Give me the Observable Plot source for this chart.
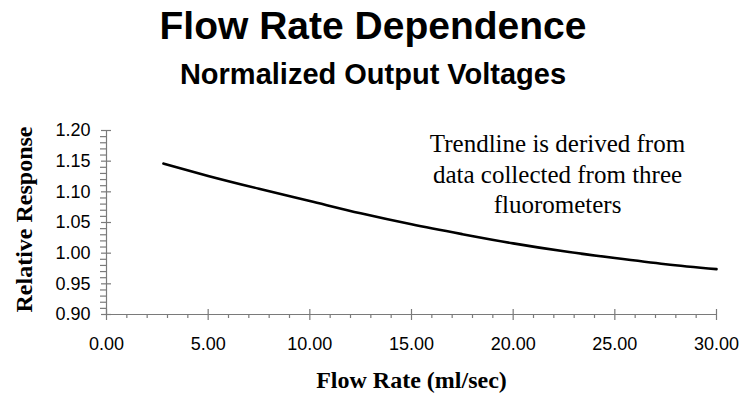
<!DOCTYPE html>
<html>
<head>
<meta charset="utf-8">
<script src="https://cdn.jsdelivr.net/npm/d3@7"></script>
<script src="https://cdn.jsdelivr.net/npm/@observablehq/plot@0.6"></script>
<style>
  html, body { margin: 0; padding: 0; background: #fff; }
  #wrap { width: 746px; height: 400px; position: relative; overflow: hidden; }
  #head { position: relative; width: 746px; height: 100px; }
  .t { position: absolute; left: 0; width: 746px; text-align: center; font-family: "Liberation Sans", Arial, sans-serif; font-weight: bold; color: #000; line-height: 1; white-space: nowrap; }
  #title { top: 6px; font-size: 39px; }
  #subtitle { top: 60px; font-size: 29px; }
  #chart svg { display: block; }
</style>
</head>
<body>
<div id="wrap">
  <div id="head">
    <div class="t" id="title">Flow Rate Dependence</div>
    <div class="t" id="subtitle">Normalized Output Voltages</div>
  </div>
  <div id="chart"></div>
</div>
<script>
// Data
const flowRate = [2.8, 5, 7.5, 10, 12.5, 15, 17.5, 20, 22.5, 25, 27.5, 30];
const response = [1.146, 1.126, 1.105, 1.085, 1.065, 1.047, 1.031, 1.016, 1.003, 0.992, 0.982, 0.974];

const xDomain = [0, 30];
const yDomain = [0.9, 1.2];
const xMajorTicks = [0, 5, 10, 15, 20, 25, 30];
const xMinorTicks = d3.range(0, 31, 1).filter(v => v % 5 !== 0);
const yMajorTicks = [0.90, 0.95, 1.00, 1.05, 1.10, 1.15, 1.20];
const yMinorTicks = d3.range(90, 121, 1).map(v => v / 100).filter((v, i) => i % 5 !== 0);

const xLabel = "Flow Rate (ml/sec)";
const yLabel = "Relative Response";
const noteLines = ["Trendline is derived from", "data collected from three", "fluorometers"];

const data = flowRate.map((x, i) => ({x, y: response[i]}));

const axisColor = "#7a7a7a";
const sans = "'Liberation Sans', Arial, sans-serif";
const serif = "'Liberation Serif', 'Times New Roman', serif";

const chart = Plot.plot({
  width: 746,
  height: 300,
  marginLeft: 106,
  marginRight: 30,
  marginTop: 30,
  marginBottom: 86,
  style: {background: "#fff", color: "#000", fontFamily: sans, overflow: "visible"},
  x: {domain: xDomain},
  y: {domain: yDomain},
  marks: [
    // axis lines
    Plot.ruleY([yDomain[0]], {stroke: axisColor, strokeWidth: 1.2}),
    Plot.ruleX([xDomain[0]], {stroke: axisColor, strokeWidth: 1.2}),
    // y ticks: minor (left of axis), major (crossing the axis)
    Plot.axisY({ticks: yMinorTicks, tickSize: 6, tickPadding: 0, tickFormat: d => "", stroke: axisColor, strokeWidth: 1.2, label: null}),
    Plot.axisY({ticks: yMajorTicks, tickSize: 5, tickPadding: 0, tickFormat: d => "", stroke: axisColor, strokeWidth: 1.2, label: null}),
    Plot.axisY({ticks: yMajorTicks, tickSize: 5, tickPadding: 0, dx: 5, tickFormat: d => "", stroke: axisColor, strokeWidth: 1.2, label: null}),
    // x ticks: minor (below axis), major (crossing the axis)
    Plot.axisX({ticks: xMinorTicks, tickSize: 4, tickPadding: 0, tickFormat: d => "", stroke: axisColor, strokeWidth: 1.2, label: null}),
    Plot.axisX({ticks: xMajorTicks, tickSize: 6, tickPadding: 0, tickFormat: d => "", stroke: axisColor, strokeWidth: 1.2, label: null}),
    Plot.axisX({ticks: xMajorTicks, tickSize: 5, tickPadding: 0, dy: -5, tickFormat: d => "", stroke: axisColor, strokeWidth: 1.2, label: null}),
    // tick labels
    Plot.axisY({ticks: yMajorTicks, tickFormat: d3.format(".2f"), tickSize: 0, tickPadding: 16, fontSize: 18, fontFamily: sans, fill: "#000", label: null}),
    Plot.axisX({ticks: xMajorTicks, tickFormat: d3.format(".2f"), tickSize: 0, tickPadding: 23, fontSize: 18, fontFamily: sans, fill: "#000", label: null}),
    // trend line
    Plot.line(data, {x: "x", y: "y", curve: "monotone-x", stroke: "#000", strokeWidth: 2.6}),
    // annotation
    Plot.text([noteLines.join("\n")], {text: d => d, frameAnchor: "top", dx: 146, dy: 0, lineAnchor: "top", lineHeight: 1.22, fontSize: 25, fontFamily: serif, fill: "#000", textAnchor: "middle"}),
    // axis titles
    Plot.text([yLabel], {text: d => d, frameAnchor: "left", dx: -82, dy: -3, rotate: -90, fontSize: 24, fontWeight: "bold", fontFamily: serif, fill: "#000", textAnchor: "middle"}),
    Plot.text([xLabel], {text: d => d, frameAnchor: "bottom", dy: 73, fontSize: 24, fontWeight: "bold", fontFamily: serif, fill: "#000", textAnchor: "middle"})
  ]
});
document.getElementById("chart").appendChild(chart);
</script>
</body>
</html>
